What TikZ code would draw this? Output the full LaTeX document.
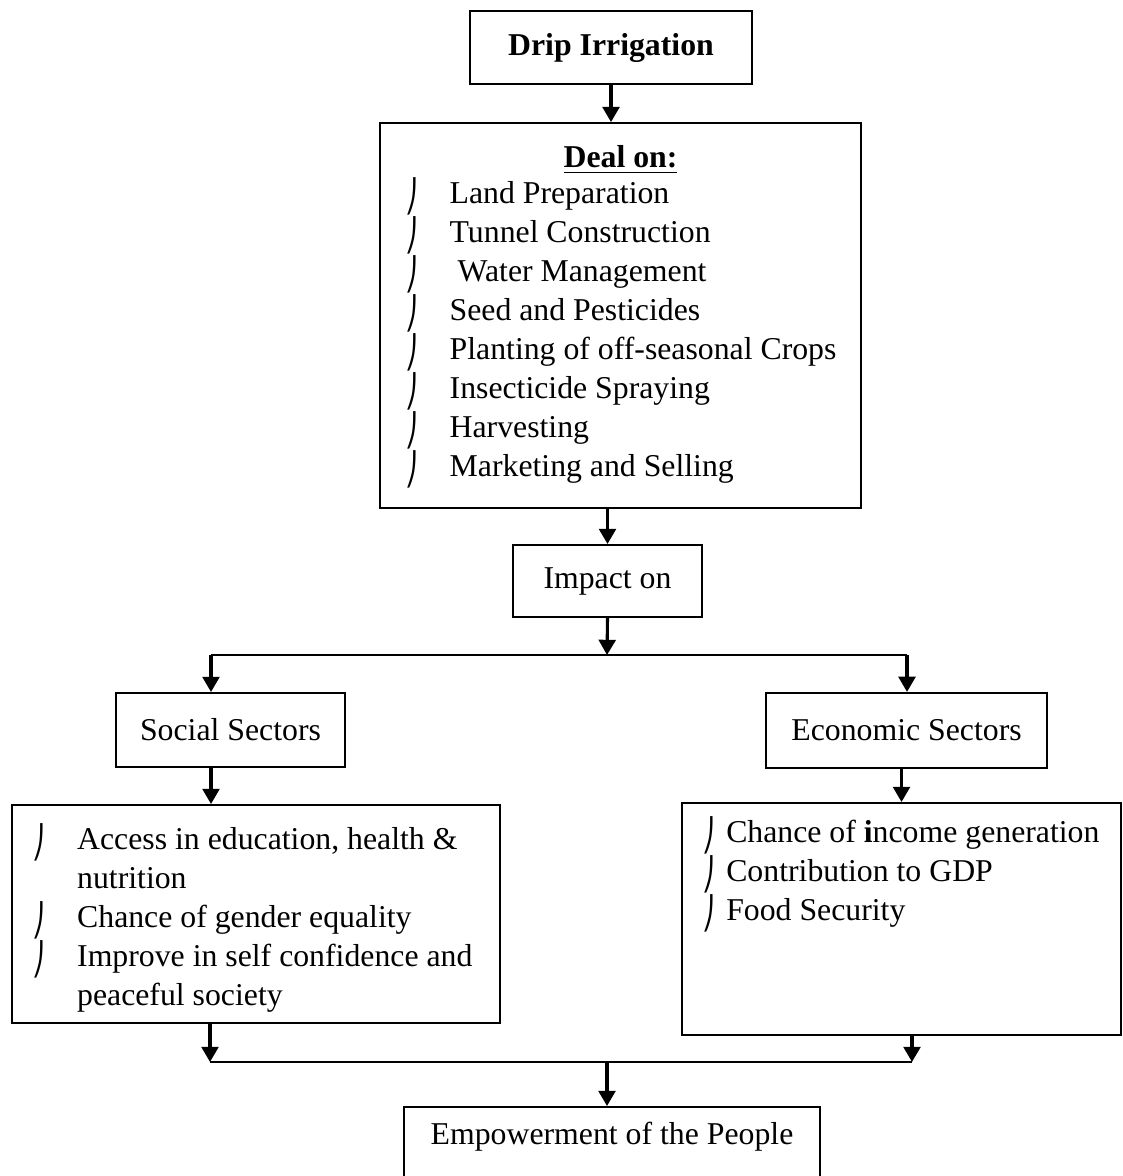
\documentclass[tikz,border=0pt]{standalone}
\usepackage{fontspec}
\setmainfont{Liberation Serif}
\newfontfamily\symfont{DejaVu Sans}
\usepackage{graphicx}
\usetikzlibrary{arrows.meta,positioning,calc}

\newcommand{\hook}{\smash{\raisebox{-0.12em}{\scalebox{0.8}[1.0]{\symfont ⎠}}}}
\newcommand{\itm}[2]{\makebox[#1][l]{\hook}#2}

\begin{document}
\begin{tikzpicture}[x=0.125mm, y=-0.125mm,
    every node/.style={font=\fontsize{11.3}{13.87}\selectfont},
    box/.style={draw, line width=0.7pt, inner sep=0pt, align=center},
    list/.style={anchor=north west, align=left, inner sep=0pt},
    arr/.style={-{Triangle[length=1.9mm,width=2.1mm]}, line width=1.1pt},
    link/.style={line width=0.7pt}
  ]
    \useasboundingbox (0,0) rectangle (1123,1176);

    \node[box, minimum width=35.25mm, minimum height=9.1mm] (drip) at (611,47.5) {\textbf{Drip Irrigation}};
    \node[box, minimum width=60.1mm, minimum height=48.1mm] (deal) at (620.5,315.5) {};
    \node[font=\fontsize{11.3}{13.87}\selectfont\bfseries] (dealhd) at ([yshift=-4.7mm]deal.north) {\underline{Deal on:}};
    \node[list] (dealtxt) at ([xshift=3.25mm, yshift=-7.4mm]deal.north west) {%
      \itm{5.5mm}{Land Preparation}\\
      \itm{5.5mm}{Tunnel Construction}\\
      \itm{5.5mm}{\ Water Management}\\
      \itm{5.5mm}{Seed and Pesticides}\\
      \itm{5.5mm}{Planting of off-seasonal Crops}\\
      \itm{5.5mm}{Insecticide Spraying}\\
      \itm{5.5mm}{Harvesting}\\
      \itm{5.5mm}{Marketing and Selling}};
    \node[box, minimum width=23.6mm, minimum height=9mm] (impact) at (607.5,581) {Impact on};

    \coordinate (split) at (607,655);
    \coordinate (splitL) at (211,655);
    \coordinate (splitR) at (907,655);

    \node[box, minimum width=28.6mm, minimum height=9.25mm] (social) at (230.5,730) {Social Sectors};
    \node[box, minimum width=35.1mm, minimum height=9.4mm] (econ) at (906.5,730.5) {Economic Sectors};

    \node[box, minimum width=61mm, minimum height=27.25mm] (social2) at (256,914) {};
    \node[list] (socialtxt) at ([xshift=2.6mm, yshift=-2.9mm]social2.north west) {%
      \itm{5.6mm}{Access in education, health \&}\\
      \hspace*{5.6mm}nutrition\\
      \itm{5.6mm}{Chance of gender equality}\\
      \itm{5.6mm}{Improve in self confidence and}\\
      \hspace*{5.6mm}peaceful society};

    \node[box, minimum width=54.9mm, minimum height=29mm] (econ2) at (901.5,919) {};
    \node[list] (econtxt) at ([xshift=2.6mm, yshift=-2.25mm]econ2.north west) {%
      \itm{3mm}{Chance of \textbf{i}ncome generation}\\
      \itm{3mm}{Contribution to GDP}\\
      \itm{3mm}{Food Security}};

    \coordinate (joinL) at (210,1062);
    \coordinate (joinR) at (912,1062);
    \coordinate (join) at (607,1062);

    \node[box, minimum width=52mm, minimum height=14mm] (empower) at (612,1163) {Empowerment of the People\\[1mm] \strut};

    \draw[arr] (drip.south) -- (drip.south |- deal.north);
    \draw[arr] (impact.north |- deal.south) -- (impact.north);
    \draw[arr] (impact.south) -- (split);
    \draw[link] (splitL) -- (splitR);
    \draw[arr] (splitL) -- (splitL |- social.north);
    \draw[arr] (splitR) -- (splitR |- econ.north);
    \draw[arr] (social.south -| splitL) -- (splitL |- social2.north);
    \draw[arr] (econ2.north |- econ.south) -- (econ2.north);
    \draw[arr] (social2.south -| joinL) -- (joinL);
    \draw[arr] (econ2.south -| joinR) -- (joinR);
    \draw[link] (joinL) -- (joinR);
    \draw[arr] (join) -- (join |- empower.north);
  \end{tikzpicture}
\end{document}
